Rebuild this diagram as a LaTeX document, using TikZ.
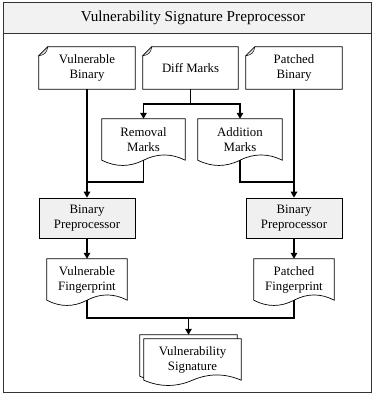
\documentclass[tikz,border=0pt]{standalone}
\usepackage{fontspec}
\setmainfont{Liberation Serif}
\usetikzlibrary{calc,arrows.meta,backgrounds}
\newcommand\cardshape[1]{%
  \draw[shp] ($(#1.north west)+(0,9)$) -- ($(#1.north west)+(9,0)$) -- (#1.north east) -- (#1.south east) -- (#1.south west) -- cycle;
  \draw[shp, line width=0.5pt, fill=gray!25] ($(#1.north west)+(0,9)$) .. controls ($(#1.north west)+(6,8)$) and ($(#1.north west)+(8,6)$) .. ($(#1.north west)+(9,0)$) -- cycle;}
\newcommand\docshape[2]{%
  \draw[shp] (#1.north west) -- (#1.north east) -- (#1.south east) .. controls +(-#2/6,-7) and +(#2/6,-7) .. (#1.south) .. controls +(-#2/6,7) and +(#2/6,7) .. (#1.south west) -- cycle;}
\begin{document}
\begin{tikzpicture}[x=1pt,y=-1pt,
  lbl/.style={align=center, font=\fontsize{12.8pt}{15pt}\selectfont, inner sep=0pt},
  conn/.style={line width=1.7pt, draw=black},
  arr/.style={conn, -{Triangle[length=6pt,width=6.5pt]}},
  shp/.style={draw=black, line width=0.7pt, fill=white},
  frame/.style={draw=black!80, line width=1pt},
  procbox/.style={lbl, draw=black, line width=0.7pt, fill=gray!12, minimum width=96pt, minimum height=40pt},
]
\useasboundingbox (0,0) rectangle (372,394);

% nodes
\node[font=\fontsize{15.2pt}{18pt}\selectfont, inner sep=0pt] (title) at (193,18) {Vulnerability Signature Preprocessor};
\node[lbl, minimum width=96pt, minimum height=42pt] (vb) at (87,68) {Vulnerable\\Binary};
\node[lbl, minimum width=95pt, minimum height=42pt] (dm) at (190.5,68) {Diff Marks};
\node[lbl, minimum width=96pt, minimum height=42pt] (pb) at (294,68) {Patched\\Binary};
\node[lbl, minimum width=83pt, minimum height=41pt] (rm) at (143.5,139.5) {Removal\\Marks};
\node[lbl, minimum width=84pt, minimum height=41pt] (am) at (240,139.5) {Addition\\Marks};
\node[procbox] (bpL) at (87,218) {Binary\\Preprocessor};
\node[procbox] (bpR) at (294,218) {Binary\\Preprocessor};
\node[lbl, minimum width=80pt, minimum height=41pt] (vf) at (87,279.5) {Vulnerable\\Fingerprint};
\node[lbl, minimum width=80pt, minimum height=41pt] (pf) at (294,279.5) {Patched\\Fingerprint};
\node[lbl, minimum width=97pt, minimum height=41pt] (sigb) at (188.5,355.5) {};
\node[lbl, minimum width=97pt, minimum height=41pt] (sig) at (192.5,359.5) {Vulnerability\\Signature};

\begin{pgfonlayer}{background}
  \draw[frame, fill=white] (3,2) rectangle (371,392);
  \draw[frame, fill=gray!10] (3,2) rectangle (371,33);
  \cardshape{vb}
  \cardshape{dm}
  \cardshape{pb}
  \docshape{rm}{83}
  \docshape{am}{84}
  \docshape{vf}{80}
  \docshape{pf}{80}
  \docshape{sigb}{97}
  \docshape{sig}{97}
\end{pgfonlayer}

% connectors
\coordinate (dsplit) at (190.5,104);
\coordinate (jL) at (87,182);
\coordinate (jR) at (294,182);
\coordinate (jB) at (188.5,318);
\draw[arr] (vb.south) -- (bpL.north);
\draw[arr] (pb.south) -- (bpR.north);
\draw[conn] (dm.south) -- (dsplit);
\draw[arr] (dsplit) -| (rm.north);
\draw[arr] (dsplit) -| (am.north);
\draw[conn] (rm.south) |- (jL);
\draw[conn] (am.south) |- (jR);
\draw[arr] (bpL.south) -- (vf.north);
\draw[arr] (bpR.south) -- (pf.north);
\draw[conn] (vf.south) |- (jB);
\draw[conn] (pf.south) |- (jB);
\draw[arr] (jB) -- (sigb.north);
\end{tikzpicture}
\end{document}
